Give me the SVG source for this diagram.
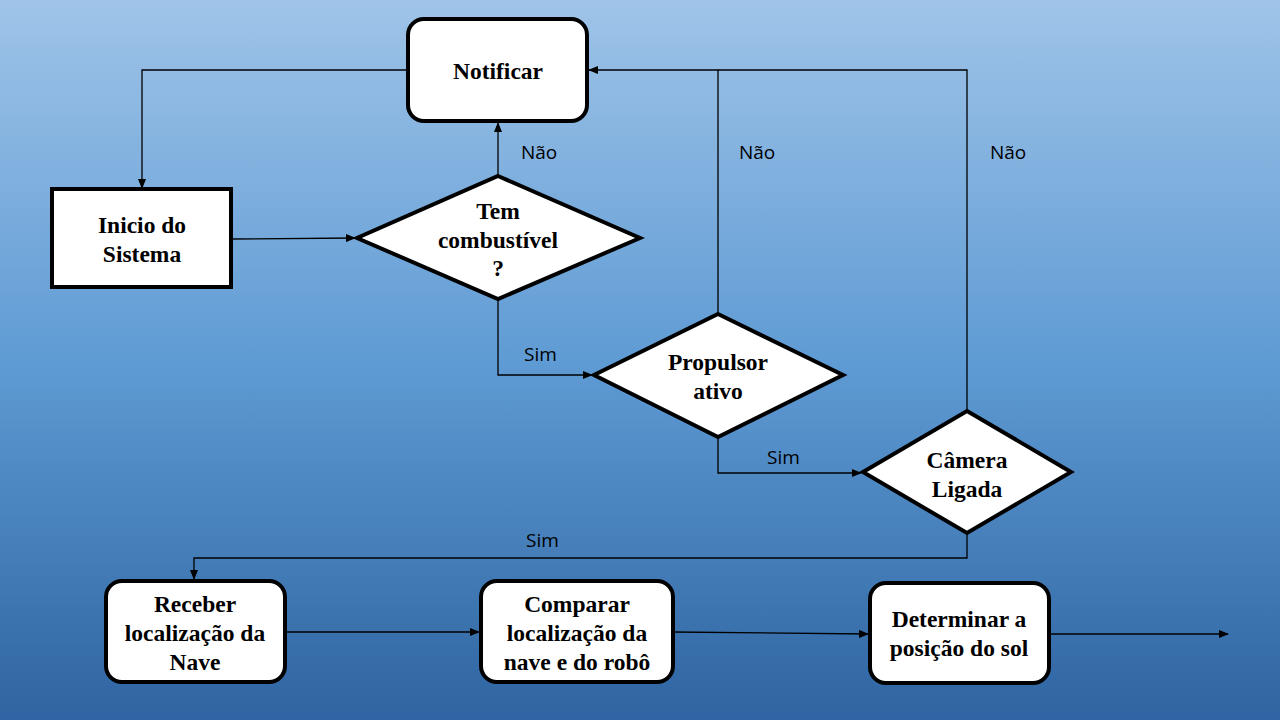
<svg xmlns="http://www.w3.org/2000/svg" width="1280" height="720" viewBox="0 0 1280 720">
<defs>
<linearGradient id="bg" x1="0" y1="0" x2="0" y2="1">
<stop offset="0" stop-color="#9fc4e8"/>
<stop offset="0.5" stop-color="#5f9bd4"/>
<stop offset="1" stop-color="#2e64a1"/>
</linearGradient>
<marker id="ah" markerWidth="10" markerHeight="8" refX="9" refY="4" orient="auto" markerUnits="userSpaceOnUse">
<path d="M0,0 L10,4 L0,8 z" fill="#000"/>
</marker>
<style>
.box{fill:#fff;stroke:#000;stroke-width:4}
.nt{font-family:"Liberation Serif","Times New Roman",serif;font-weight:bold;font-size:23.5px;fill:#000;text-anchor:middle}
.lbl{font-family:"Open Sans","Liberation Sans",sans-serif;font-size:19px;fill:#000}
.c{fill:none;stroke:#000;stroke-width:1.3}
</style>
</defs>
<rect width="1280" height="720" fill="url(#bg)"/>

<g id="connectors">
<path class="c" d="M408,70 H142 V188" marker-end="url(#ah)"/>
<path class="c" d="M231,239 L355,238" marker-end="url(#ah)"/>
<path class="c" d="M498,176 V123" marker-end="url(#ah)"/>
<path class="c" d="M498,299 V375 H592" marker-end="url(#ah)"/>
<path class="c" d="M718,314 V70 H589" marker-end="url(#ah)"/>
<path class="c" d="M967,411 V70 H718"/>
<path class="c" d="M718,437 V473 H861" marker-end="url(#ah)"/>
<path class="c" d="M967,533 V558 H194 V579" marker-end="url(#ah)"/>
<path class="c" d="M285,632 H479" marker-end="url(#ah)"/>
<path class="c" d="M673,632 L868,634" marker-end="url(#ah)"/>
<path class="c" d="M1049,634 H1228" marker-end="url(#ah)"/>
<text class="lbl" x="521" y="159">Não</text>
<text class="lbl" x="739" y="159">Não</text>
<text class="lbl" x="990" y="159">Não</text>
<text class="lbl" x="524" y="361">Sim</text>
<text class="lbl" x="767" y="464">Sim</text>
<text class="lbl" x="526" y="547">Sim</text>
</g>

<g id="notificar">
<rect class="box" x="408" y="19" width="179" height="102" rx="16"/>
<text class="nt" x="498" y="79">Notificar</text>
</g>

<g id="inicio">
<rect class="box" x="52" y="189" width="179" height="98"/>
<text class="nt" x="142" y="233">Inicio do</text>
<text class="nt" x="142" y="262">Sistema</text>
</g>

<g id="combustivel">
<polygon class="box" points="498,176 640,238 498,299 357,238"/>
<text class="nt" x="498" y="219">Tem</text>
<text class="nt" x="498" y="248">combustível</text>
<text class="nt" x="498" y="276">?</text>
</g>

<g id="propulsor">
<polygon class="box" points="718,314 843,375 718,437 594,375"/>
<text class="nt" x="718" y="370">Propulsor</text>
<text class="nt" x="718" y="399">ativo</text>
</g>

<g id="camera">
<polygon class="box" points="967,411 1071,472 967,533 863,472"/>
<text class="nt" x="967" y="468">Câmera</text>
<text class="nt" x="967" y="497">Ligada</text>
</g>

<g id="receber">
<rect class="box" x="106" y="581" width="179" height="101" rx="16"/>
<text class="nt" x="195" y="612">Receber</text>
<text class="nt" x="195" y="641">localização da</text>
<text class="nt" x="195" y="670">Nave</text>
</g>

<g id="comparar">
<rect class="box" x="481" y="581" width="192" height="101" rx="16"/>
<text class="nt" x="577" y="612">Comparar</text>
<text class="nt" x="577" y="641">localização da</text>
<text class="nt" x="577" y="670">nave e do robô</text>
</g>

<g id="determinar">
<rect class="box" x="870" y="583" width="179" height="100" rx="16"/>
<text class="nt" x="959" y="627">Determinar a</text>
<text class="nt" x="959" y="656">posição do sol</text>
</g>
</svg>
